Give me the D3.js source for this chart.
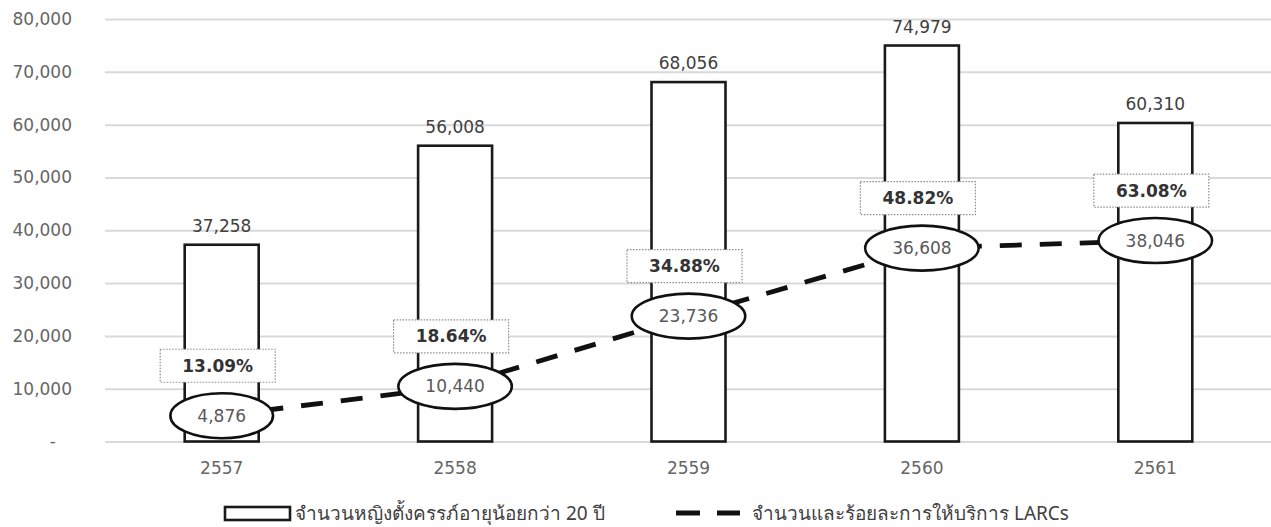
<!DOCTYPE html>
<html>
<head>
<meta charset="utf-8">
<script src="https://cdn.jsdelivr.net/npm/d3@7"></script>
<style>
  html, body { margin: 0; padding: 0; background: #ffffff; }
  svg { display: block; }
  .num { font-family: Verdana, "DejaVu Sans", sans-serif; font-size: 17px; }
  .thai { font-family: Tahoma, "Noto Sans", sans-serif; font-size: 19px; }
</style>
</head>
<body>
<svg id="chart" width="1271" height="527"></svg>
<script>
// Years (Buddhist era)
const years = ["2557", "2558", "2559", "2560", "2561"];
// Pregnant women under 20 years
const pregnancies = [37258, 56008, 68056, 74979, 60310];
// LARCs services provided (count)
const larcs = [4876, 10440, 23736, 36608, 38046];
// LARCs services as percentage
const larcPct = ["13.09%", "18.64%", "34.88%", "48.82%", "63.08%"];
// Axis ticks
const yTicks = [0, 10000, 20000, 30000, 40000, 50000, 60000, 70000, 80000];
// Legend labels
const legendLabels = ["จำนวนหญิงตั้งครรภ์อายุน้อยกว่า 20 ปี", "จำนวนและร้อยละการให้บริการ LARCs"];

const svg = d3.select("#chart");

const x = d3.scaleBand().domain(years).range([105, 1272]).paddingInner(0.683).paddingOuter(0.3415);
const y = d3.scaleLinear().domain([0, 80000]).range([441.5, 19]);

const fmt = d3.format(",");

// Gridlines and y tick labels
const yAxis = d3.axisLeft(y)
  .tickValues(yTicks)
  .tickSize(-(1272 - 105))
  .tickPadding(33)
  .tickFormat(d => d === 0 ? "-" : fmt(d));

const gy = svg.append("g").attr("transform", "translate(105,0)").call(yAxis);
gy.select(".domain").remove();
gy.attr("font-family", null).attr("font-size", null);
gy.selectAll(".tick line").attr("stroke", "#d9d9d9").attr("stroke-width", 2);
gy.selectAll(".tick text")
  .attr("class", "num")
  .attr("fill", "#666666")
  .attr("dx", d => d === 0 ? -16 : 0);

// X labels
const xAxis = d3.axisBottom(x).tickSize(0).tickPadding(20);
const gx = svg.append("g").attr("transform", `translate(0,${y(0)})`).call(xAxis);
gx.select(".domain").remove();
gx.attr("font-family", null).attr("font-size", null);
gx.selectAll(".tick text")
  .attr("class", "num")
  .attr("fill", "#666666");

// Bars
svg.append("g").selectAll("rect")
  .data(years)
  .join("rect")
  .attr("x", d => x(d))
  .attr("y", (d, i) => y(pregnancies[i]))
  .attr("width", x.bandwidth())
  .attr("height", (d, i) => y(0) - y(pregnancies[i]))
  .attr("fill", "#ffffff")
  .attr("stroke", "#1a1a1a")
  .attr("stroke-width", 2.6);

// Bar value labels
svg.append("g").selectAll("text")
  .data(years)
  .join("text")
  .attr("class", "num")
  .attr("x", d => x(d) + x.bandwidth() / 2)
  .attr("y", (d, i) => y(pregnancies[i]) - 13)
  .attr("text-anchor", "middle")
  .attr("fill", "#404040")
  .text((d, i) => fmt(pregnancies[i]));

const cx = d => x(d) + x.bandwidth() / 2;

// Dashed LARCs line
const line = d3.line().x((d, i) => cx(years[i])).y(d => y(d));
svg.append("path")
  .datum(larcs)
  .attr("d", line)
  .attr("fill", "none")
  .attr("stroke", "#111111")
  .attr("stroke-width", 4.8)
  .attr("stroke-dasharray", "22,18");

// Percentage boxes
const pctG = svg.append("g").selectAll("g")
  .data(years)
  .join("g")
  .attr("transform", (d, i) => `translate(${cx(d) - 4},${y(larcs[i]) - 50})`);
pctG.append("rect")
  .attr("x", -57.5).attr("y", -16.5)
  .attr("width", 115).attr("height", 33)
  .attr("fill", "#ffffff")
  .attr("stroke", "#8c8c8c")
  .attr("stroke-width", 1.2)
  .attr("stroke-dasharray", "1.5,1.5");
pctG.append("text")
  .attr("class", "num")
  .attr("text-anchor", "middle")
  .attr("dy", "0.36em")
  .attr("fill", "#333333")
  .style("font-weight", "600")
  .text((d, i) => larcPct[i]);

// Ellipse value labels on the line
const ellG = svg.append("g").selectAll("g")
  .data(years)
  .join("g")
  .attr("transform", (d, i) => `translate(${cx(d)},${y(larcs[i])})`);
const ell = ellG.append("ellipse")
  .attr("rx", 58)
  .attr("ry", 22.5)
  .attr("fill", "#ffffff")
  .attr("stroke", "#111111")
  .attr("stroke-width", 2.6);
const ellText = ellG.append("text")
  .attr("class", "num")
  .attr("text-anchor", "middle")
  .attr("dy", "0.36em")
  .attr("fill", "#595959")
  .text((d, i) => fmt(larcs[i]));
// size each ellipse to its label
ellText.each(function (d, i) {
  const w = this.getComputedTextLength();
  d3.select(ell.nodes()[i]).attr("rx", w / 2 + 27);
});

// Legend
const lg = svg.append("g");
lg.append("rect")
  .attr("x", 225).attr("y", 507)
  .attr("width", 65).attr("height", 13)
  .attr("fill", "#ffffff")
  .attr("stroke", "#1a1a1a")
  .attr("stroke-width", 2.6);
lg.append("text")
  .attr("class", "thai")
  .attr("x", 295).attr("y", 520)
  .attr("fill", "#404040")
  .text(legendLabels[0]);
lg.append("line")
  .attr("x1", 676).attr("x2", 740)
  .attr("y1", 513).attr("y2", 513)
  .attr("stroke", "#111111")
  .attr("stroke-width", 4.8)
  .attr("stroke-dasharray", "24,17");
lg.append("text")
  .attr("class", "thai")
  .attr("x", 752).attr("y", 520)
  .attr("fill", "#404040")
  .text(legendLabels[1]);
</script>
</body>
</html>
